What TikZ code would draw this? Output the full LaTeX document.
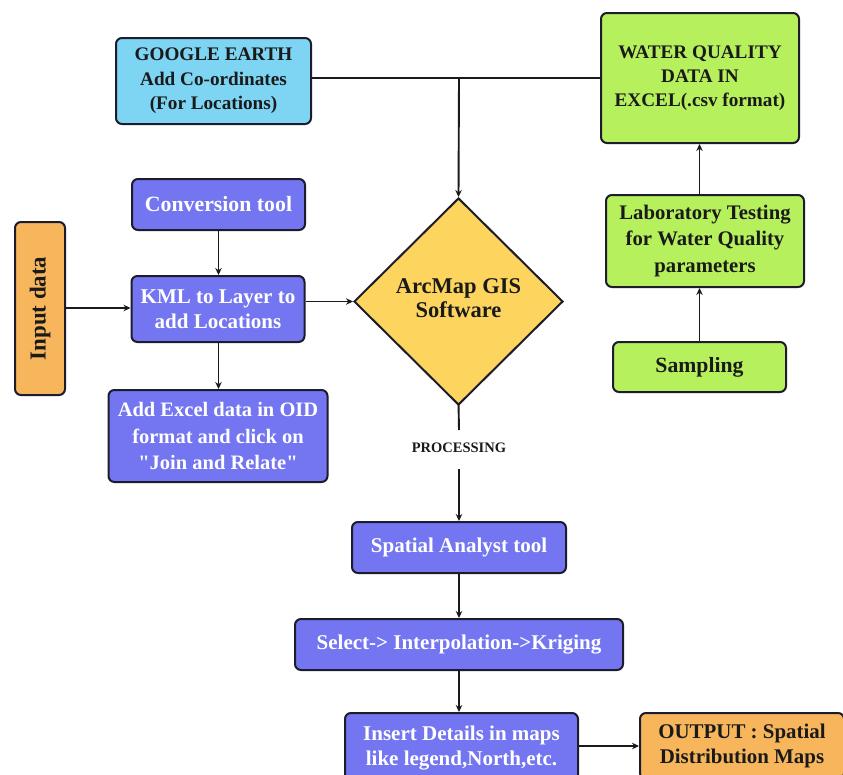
\documentclass[tikz,border=0pt]{standalone}
\usepackage{fontspec}
\setmainfont{Liberation Serif}[Ligatures=TeXOff]
\usetikzlibrary{shapes.geometric,arrows.meta}
\definecolor{bluebox}{HTML}{7376F0}
\definecolor{skybox}{HTML}{7DD4F3}
\definecolor{greenbox}{HTML}{B6F05C}
\definecolor{orangebox}{HTML}{F8B65C}
\definecolor{yellowbox}{HTML}{FDD55E}
\definecolor{edge}{HTML}{1C1C2C}
\definecolor{ink}{HTML}{1A1A1A}
\tikzset{
  box/.style={draw=edge, line width=2pt, rounded corners=6pt, align=center,
    inner sep=0pt, font=\bfseries\fontsize{21}{25}\selectfont},
  bluenode/.style={box, fill=bluebox, text=white},
  skynode/.style={box, fill=skybox, text=ink, font=\bfseries\fontsize{19.2}{24.5}\selectfont},
  greennode/.style={box, fill=greenbox, text=ink},
  orangenode/.style={box, fill=orangebox, text=ink},
  conn/.style={line width=1.9pt, draw=ink},
  arr/.style={conn, -{Stealth[length=7pt,width=6.5pt]}},
}
\begin{document}
\begin{tikzpicture}[x=1pt,y=-1pt]
\useasboundingbox (0,0) rectangle (843,774);
\fill[white] (0,0) rectangle (843,774);
% nodes
\node[skynode, minimum width=195pt, minimum height=86pt] (ge) at (213.5,81) {GOOGLE EARTH\\Add Co-ordinates\\(For Locations)};
\node[greennode, minimum width=198pt, minimum height=130pt, font=\bfseries\fontsize{19.2}{24}\selectfont] (wq) at (700,78) {WATER QUALITY\\DATA IN\\EXCEL(.csv format)};
\node[greennode, minimum width=198pt, minimum height=92pt, font=\bfseries\fontsize{20.7}{26.5}\selectfont] (lab) at (705,241) {Laboratory Testing\\for Water Quality\\parameters};
\node[greennode, minimum width=173pt, minimum height=50pt, font=\bfseries\fontsize{21.7}{25}\selectfont] (samp) at (699.5,367) {Sampling};
\node[bluenode, minimum width=173pt, minimum height=51pt, font=\bfseries\fontsize{21.8}{25}\selectfont] (conv) at (218.5,204.5) {Conversion tool};
\node[bluenode, minimum width=173pt, minimum height=66pt] (kml) at (218,309) {KML to Layer to\\add Locations};
\node[orangenode, minimum width=50pt, minimum height=173pt] (inp) at (40,308.5) {};
\node[rotate=90, text=ink, font=\bfseries\fontsize{22.9}{26}\selectfont] (inptext) at (inp.center) {Input data};
\node[bluenode, minimum width=219pt, minimum height=92pt, font=\bfseries\fontsize{20.5}{26.5}\selectfont] (excel) at (218,436) {Add Excel data in OID\\format and click on\\"Join and Relate"};
\node[diamond, draw=edge, line width=2pt, fill=yellowbox, inner sep=0pt,
      minimum width=209pt, minimum height=207pt] (dia) at (458.5,301.5) {};
\node[text=ink, align=center, font=\bfseries\fontsize{22.5}{24.5}\selectfont] (diatext) at (458.5,298) {ArcMap GIS\\Software};
\node[text=ink, font=\bfseries\fontsize{14.5}{17}\selectfont, inner sep=0pt] (proc) at (459,448) {PROCESSING};
\node[bluenode, minimum width=214pt, minimum height=51pt] (spa) at (459,547.5) {Spatial Analyst tool};
\node[bluenode, minimum width=328pt, minimum height=51pt] (sel) at (459,644.5) {Select-> Interpolation->Kriging};
\node[bluenode, minimum width=233pt, minimum height=70pt] (ins) at (461.5,748) {Insert Details in maps\\like legend,North,etc.};
\node[orangenode, minimum width=204pt, minimum height=66pt, font=\bfseries\fontsize{20.9}{25}\selectfont] (out) at (742,746) {OUTPUT : Spatial\\Distribution Maps};
% connectors
\coordinate (j) at (459,78);
\coordinate (pa) at (459,430);
\coordinate (pb) at (459,469);
\draw[conn] (ge.east|-j) -- (wq.west|-j);
\draw[arr] (j) -- (dia.north);
\draw[arr] (samp.north) -- (samp.north|-lab.south);
\draw[arr] (samp.north|-lab.north) -- (samp.north|-wq.south);
\draw[arr] (conv.south) -- (conv.south|-kml.north);
\draw[arr] (conv.south|-kml.south) -- (conv.south|-excel.north);
\draw[arr] (inp.east|-0,308) -- (kml.west|-0,308);
\draw[arr] (kml.east|-dia) -- (dia.west);
\draw[conn] ([yshift=3pt]dia.south) -- (pa);
\draw[arr] (pb) -- (spa.north);
\draw[arr] (spa.south) -- (sel.north);
\draw[arr] (sel.south) -- (sel.south|-ins.north);
\draw[arr] (ins.east|-out.west) -- (out.west);
\end{tikzpicture}
\end{document}
